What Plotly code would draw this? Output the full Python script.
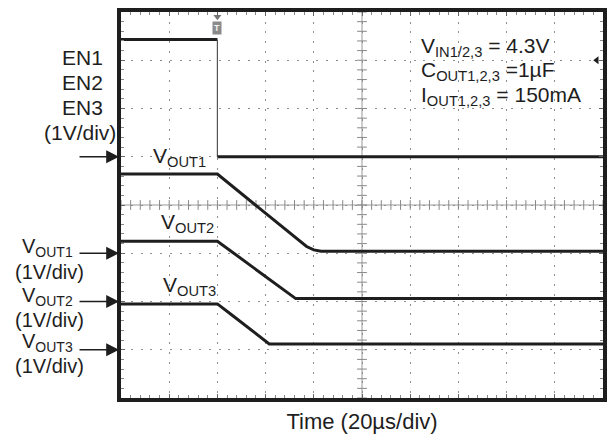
import numpy as np
import plotly.graph_objects as go

# ---- data (time in µs, 20 µs/div; amplitude in divisions, 1 V/div) ----
en_t = [0, 40, 40, 200]
en_v = [7.43, 7.43, 5.0, 5.0]

vout1_t = [0, 40, 77, 80, 83, 200]
vout1_v = [4.64, 4.64, 3.14, 3.07, 3.04, 3.04]

vout2_t = [0, 40, 72.5, 200]
vout2_v = [3.25, 3.25, 2.06, 2.06]

vout3_t = [0, 40, 46, 61.5, 200]
vout3_v = [1.95, 1.95, 1.72, 1.12, 1.12]

ground_levels = [5.0, 3.0, 2.0, 1.0]   # channel reference markers (div)
trigger_t = 40
trigger_level = 7.0

FONT = "Liberation Sans, Arial, sans-serif"
INK = "#1e1e1e"
L, R, T, B = 121, 8, 8, 41
W, H = 615, 439
PW, PH = W - L - R, H - T - B


def px(x):
    return (x - L) / PW


def py(y):
    return (H - B - y) / PH


fig = go.Figure()

# centre cross tick marks (graticule decoration)
fig.add_trace(go.Scatter(x=np.arange(0, 200.01, 4), y=[4] * 51, mode="markers",
                         marker=dict(symbol="line-ns", size=7, line=dict(width=1, color="#888")),
                         hoverinfo="skip", showlegend=False))
fig.add_trace(go.Scatter(x=[100] * 41, y=np.arange(0, 8.001, 0.2), mode="markers",
                         marker=dict(symbol="line-ew", size=7, line=dict(width=1, color="#888")),
                         hoverinfo="skip", showlegend=False))

# EN: thick levels, thin fast edge
fig.add_trace(go.Scatter(x=en_t[:2], y=en_v[:2], mode="lines", line=dict(color=INK, width=3),
                         hoverinfo="skip", showlegend=False))
fig.add_trace(go.Scatter(x=en_t[1:3], y=en_v[1:3], mode="lines", line=dict(color="#555", width=1.2),
                         hoverinfo="skip", showlegend=False))
fig.add_trace(go.Scatter(x=en_t[2:], y=en_v[2:], mode="lines", line=dict(color=INK, width=3),
                         hoverinfo="skip", showlegend=False))

for t, v in [(vout1_t, vout1_v), (vout2_t, vout2_v), (vout3_t, vout3_v)]:
    fig.add_trace(go.Scatter(x=t, y=v, mode="lines", line=dict(color=INK, width=3),
                             hoverinfo="skip", showlegend=False))

# trigger markers
fig.add_trace(go.Scatter(x=[trigger_t], y=[7.9], mode="markers",
                         marker=dict(symbol="triangle-down", size=7, color="#777"),
                         cliponaxis=False, hoverinfo="skip", showlegend=False))
fig.add_trace(go.Scatter(x=[197.4], y=[trigger_level], mode="markers",
                         marker=dict(symbol="triangle-left", size=7, color=INK),
                         cliponaxis=False, hoverinfo="skip", showlegend=False))

shapes = [
    dict(type="line", xref="x", yref="paper", x0=100, x1=100, y0=0, y1=1,
         line=dict(color="#999", width=1), layer="below"),
    dict(type="line", xref="paper", yref="y", x0=0, x1=1, y0=4, y1=4,
         line=dict(color="#999", width=1), layer="below"),
]

ann = []


def text(x, y, s, size=21, anchor="left"):
    ann.append(dict(xref="paper", yref="paper", x=px(x), y=py(y), text=s, showarrow=False,
                    xanchor=anchor, yanchor="middle",
                    font=dict(family=FONT, size=size, color=INK)))


# left-side labels
text(82, 54, "EN1", anchor="center")
text(82, 79, "EN2", anchor="center")
text(82, 104, "EN3", anchor="center")
text(80, 130, "(1V/div)", anchor="center")

text(19, 246, "V<sub>OUT1</sub>", size=20)
text(49, 271, "(1V/div)", size=20, anchor="center")
text(19, 295, "V<sub>OUT2</sub>", size=20)
text(49, 319, "(1V/div)", size=20, anchor="center")
text(19, 342, "V<sub>OUT3</sub>", size=20)
text(49, 366, "(1V/div)", size=20, anchor="center")

# in-plot labels
text(151, 154, "V<sub>OUT1</sub>")
text(159, 221, "V<sub>OUT2</sub>")
text(161, 285, "V<sub>OUT3</sub>")

# conditions
text(421, 43, "V<sub>IN1/2,3</sub> = 4.3V")
text(421, 68, "C<sub>OUT1,2,3</sub> =1µF")
text(421, 93, "I<sub>OUT1,2,3</sub> = 150mA")

# trigger "T" flag
ann.append(dict(xref="x", yref="paper", x=trigger_t, y=py(24), text="<b>T</b>", showarrow=False,
                font=dict(family=FONT, size=9, color="#f2f2f2"), bgcolor="#8a8a8a",
                borderpad=1, xanchor="center", yanchor="middle"))

# ground reference arrows
for g in ground_levels:
    ann.append(dict(xref="paper", yref="y", x=px(119), y=g, ax=-41, ay=0, axref="pixel",
                    ayref="pixel", text="", showarrow=True, arrowhead=2, arrowsize=1.6,
                    arrowwidth=1.6, arrowcolor=INK))

fig.update_layout(
    width=W, height=H, margin=dict(l=L, r=R, t=T, b=B),
    paper_bgcolor="white", plot_bgcolor="white",
    shapes=shapes, annotations=ann, showlegend=False,
    xaxis=dict(range=[0, 200], dtick=20, showticklabels=False, showgrid=True,
               gridcolor="#8f8f8f", griddash="2px,7.72px", gridwidth=1,
               ticks="inside", ticklen=4, tickcolor="#666", mirror="allticks",
               showline=True, linecolor=INK, linewidth=3.5, zeroline=False,
               minor=dict(dtick=4, ticks="inside", ticklen=3, tickcolor="#888", showgrid=False),
               title=dict(text="Time (20µs/div)", font=dict(family=FONT, size=22, color=INK),
                          standoff=14)),
    yaxis=dict(range=[0, 8], dtick=1, showticklabels=False, showgrid=True,
               gridcolor="#8f8f8f", griddash="2px,7.75px", gridwidth=1,
               ticks="inside", ticklen=4, tickcolor="#666", mirror="allticks",
               showline=True, linecolor=INK, linewidth=3.5, zeroline=False,
               minor=dict(dtick=0.2, ticks="inside", ticklen=3, tickcolor="#888", showgrid=False)),
)

fig.write_html("out.html", config={"displayModeBar": False},
               post_script="document.body.style.margin='0px';")
